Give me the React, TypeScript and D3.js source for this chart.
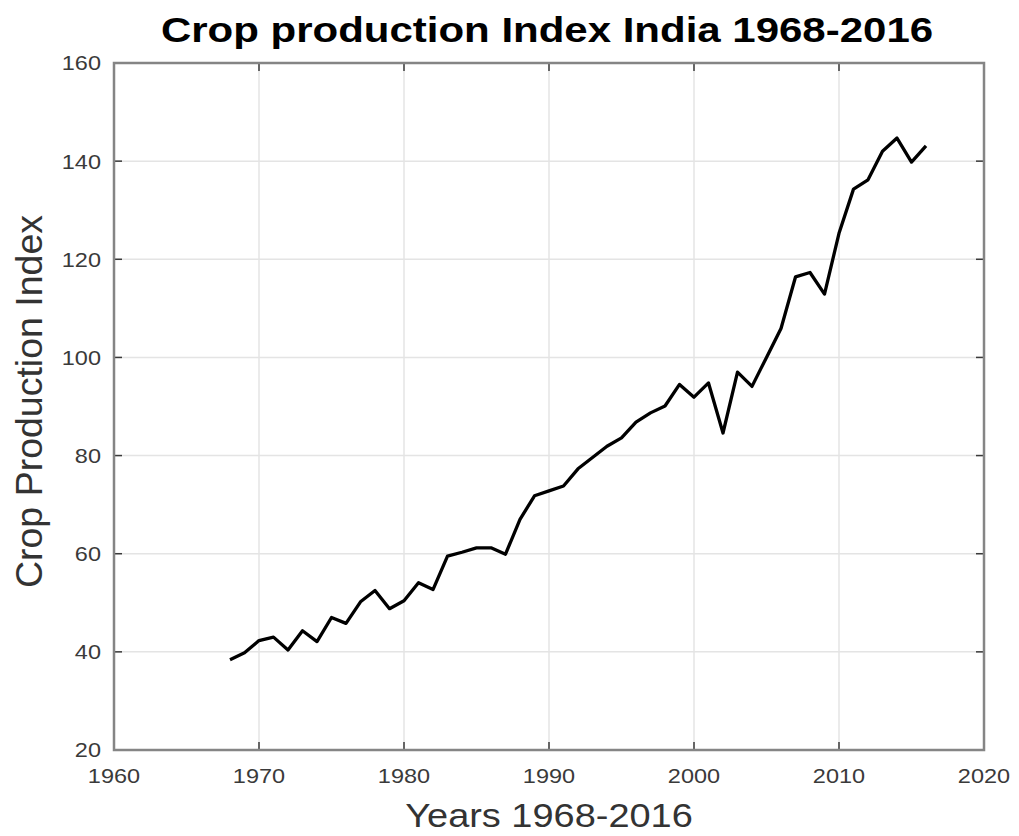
import * as d3 from 'd3'

const years: number[] = [
  1968, 1969, 1970, 1971, 1972, 1973, 1974, 1975, 1976, 1977,
  1978, 1979, 1980, 1981, 1982, 1983, 1984, 1985, 1986, 1987,
  1988, 1989, 1990, 1991, 1992, 1993, 1994, 1995, 1996, 1997,
  1998, 1999, 2000, 2001, 2002, 2003, 2004, 2005, 2006, 2007,
  2008, 2009, 2010, 2011, 2012, 2013, 2014, 2015, 2016,
]

const cropIndex: number[] = [
  38.4, 39.8, 42.3, 43.0, 40.4, 44.3, 42.1, 47.0, 45.8, 50.2,
  52.5, 48.8, 50.4, 54.1, 52.7, 59.5, 60.3, 61.2, 61.2, 59.9,
  67.0, 71.8, 72.8, 73.8, 77.3, 79.6, 81.9, 83.6, 86.8, 88.7,
  90.1, 94.5, 91.9, 94.8, 84.6, 97.0, 94.1, 100.0, 105.9, 116.4,
  117.3, 112.9, 125.3, 134.3, 136.2, 142.0, 144.7, 139.8, 143.1,
]

const xTicks: number[] = [1960, 1970, 1980, 1990, 2000, 2010, 2020]
const yTicks: number[] = [20, 40, 60, 80, 100, 120, 140, 160]

const title = 'Crop production Index India 1968-2016'
const xLabel = 'Years 1968-2016'
const yLabel = 'Crop Production Index'

const W = 1019
const H = 836
const left = 114
const right = 984
const top = 63
const bottom = 750
const tickLen = 8
const font = "'Liberation Sans', Arial, Helvetica, sans-serif"

export default function App(): JSX.Element {
  const x = d3.scaleLinear().domain([1960, 2020]).range([left, right])
  const y = d3.scaleLinear().domain([20, 160]).range([bottom, top])

  const line = d3
    .line<number>()
    .x((_, i) => x(years[i]))
    .y((v) => y(v))

  const cx = (left + right) / 2

  return (
    <svg
      width={W}
      height={H}
      style={{ position: 'absolute', left: 0, top: 0, background: '#fff' }}
      fontFamily={font}
    >
      <rect width={W} height={H} fill="#fff" />

      {/* grid */}
      <g stroke="#e4e4e4" strokeWidth={1.5}>
        {xTicks.slice(1, -1).map((t) => (
          <line key={`gx${t}`} x1={x(t)} x2={x(t)} y1={top} y2={bottom} />
        ))}
        {yTicks.slice(1, -1).map((t) => (
          <line key={`gy${t}`} x1={left} x2={right} y1={y(t)} y2={y(t)} />
        ))}
      </g>

      {/* data */}
      <path
        d={line(cropIndex) ?? ''}
        fill="none"
        stroke="#000"
        strokeWidth={3.3}
        strokeLinejoin="round"
      />

      {/* ticks */}
      <g stroke="#3a3a3a" strokeWidth={1.5}>
        {xTicks.map((t) => (
          <g key={`tx${t}`}>
            <line x1={x(t)} x2={x(t)} y1={bottom} y2={bottom - tickLen} />
            <line x1={x(t)} x2={x(t)} y1={top} y2={top + tickLen} />
          </g>
        ))}
        {yTicks.map((t) => (
          <g key={`ty${t}`}>
            <line x1={left} x2={left + tickLen} y1={y(t)} y2={y(t)} />
            <line x1={right} x2={right - tickLen} y1={y(t)} y2={y(t)} />
          </g>
        ))}
      </g>

      {/* frame */}
      <rect
        x={left}
        y={top}
        width={right - left}
        height={bottom - top}
        fill="none"
        stroke="#858585"
        strokeWidth={2.5}
      />

      {/* tick labels */}
      <g fill="#3a3a3a" fontSize={21}>
        {xTicks.map((t) => (
          <text
            key={`lx${t}`}
            textAnchor="middle"
            transform={`translate(${x(t)},783) scale(1.12,1)`}
          >
            {t}
          </text>
        ))}
        {yTicks.map((t) => (
          <text
            key={`ly${t}`}
            textAnchor="end"
            dy="0.35em"
            transform={`translate(${left - 13},${y(t)}) scale(1.12,1)`}
          >
            {t}
          </text>
        ))}
      </g>

      {/* labels */}
      <text
        textAnchor="middle"
        fontSize={33}
        fill="#333"
        transform={`translate(${cx},827) scale(1.15,1)`}
      >
        {xLabel}
      </text>
      <text
        textAnchor="middle"
        fontSize={37.5}
        fill="#333"
        transform={`translate(42,${(top + bottom) / 2 - 5}) rotate(-90)`}
      >
        {yLabel}
      </text>
      <text
        textAnchor="middle"
        fontSize={35}
        fontWeight="bold"
        fill="#000"
        transform={`translate(${cx - 2},42) scale(1.2,1)`}
      >
        {title}
      </text>
    </svg>
  )
}
